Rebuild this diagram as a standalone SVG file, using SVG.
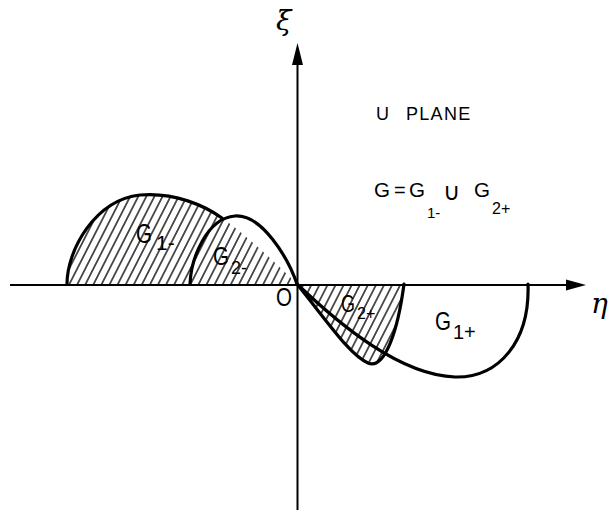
<svg xmlns="http://www.w3.org/2000/svg" width="614" height="514" viewBox="0 0 614 514">
  <style>
    .t { font-family: "Liberation Sans", Arial, sans-serif; fill: #000; }
    .g { font-family: "DejaVu Serif", "Liberation Serif", serif; font-style: italic; fill: #000; }
    .curve { fill: none; stroke: #000; stroke-width: 3.2; stroke-linecap: round; stroke-linejoin: round; }
    .axis { fill: none; stroke: #000; stroke-width: 2; }
  </style>
  <defs>
    <pattern id="hatch" patternUnits="userSpaceOnUse" width="7.2" height="10" patternTransform="rotate(27)">
      <line x1="3.6" y1="-1" x2="3.6" y2="11" stroke="#000" stroke-width="1.3"/>
    </pattern>
  </defs>
  <rect width="614" height="514" fill="#fff"/>

  <g id="hatched-regions">
    <path d="M67,284 C67,250 95,200 140,195 C175,192 205,206 222,218 C245,234 275,262 297,284 Z" fill="url(#hatch)"/>
    <path d="M297,284 C330,325 350,355 368,363 C385,370 398,330 404,284 Z" fill="url(#hatch)"/>
  </g>

  <g id="axes">
    <line class="axis" x1="10" y1="285" x2="570" y2="285"/>
    <polygon points="586,285 566,279.5 566,290.5" fill="#000"/>
    <line class="axis" x1="297.5" y1="510" x2="297.5" y2="60"/>
    <polygon points="297.5,43 292,65 303,65" fill="#000"/>
  </g>

  <g id="connectors">
    <path id="curve-G1minus" class="curve" d="M67,284 C67,250 95,200 140,195 C175,192 205,206 222,218"/>
    <path id="curve-G2minus" class="curve" d="M190,284 C191,258 207,218 235,216 C262,214 288,258 297,284"/>
    <path id="curve-G2plus" class="curve" d="M297,284 C330,325 350,355 368,363 C385,370 398,330 404,284"/>
    <path id="curve-G1plus" class="curve" d="M297,284 C340,325 400,375 455,377 C500,378 530,340 528,284"/>
  </g>

  <g id="axis-labels">
    <text class="g" x="276" y="30" font-size="28">ξ</text>
    <text class="g" x="591" y="313" font-size="28">η</text>
    <text class="t" x="276" y="306" font-size="25" textLength="16" lengthAdjust="spacingAndGlyphs">O</text>
  </g>

  <g id="region-labels">
    <g id="label-G1minus">
      <text class="t" x="136" y="243" font-size="27" textLength="16" lengthAdjust="spacingAndGlyphs">G</text>
      <text class="t" x="156" y="250" font-size="21">1-</text>
    </g>
    <g id="label-G2minus">
      <text class="t" x="213" y="265" font-size="25" textLength="16" lengthAdjust="spacingAndGlyphs">G</text>
      <text class="t" x="231" y="274" font-size="18">2-</text>
    </g>
    <g id="label-G2plus">
      <text class="t" x="341" y="312" font-size="23" textLength="14" lengthAdjust="spacingAndGlyphs">G</text>
      <text class="t" x="357" y="319" font-size="16">2+</text>
    </g>
    <g id="label-G1plus">
      <text class="t" x="435" y="330" font-size="25" textLength="16" lengthAdjust="spacingAndGlyphs">G</text>
      <text class="t" x="453" y="339" font-size="20">1+</text>
    </g>
  </g>

  <g id="title">
    <text class="t" x="376" y="120" font-size="18">U</text>
    <text class="t" x="406" y="120" font-size="18" letter-spacing="1.3">PLANE</text>
  </g>

  <g id="formula">
    <text class="t" x="374" y="197" font-size="20" textLength="16" lengthAdjust="spacingAndGlyphs">G</text>
    <text class="t" x="394" y="197" font-size="20">=</text>
    <text class="t" x="409" y="197" font-size="20" textLength="16" lengthAdjust="spacingAndGlyphs">G</text>
    <text class="t" x="427" y="218" font-size="15">1-</text>
    <text x="443" y="200" font-size="24" font-family="DejaVu Sans, sans-serif">∪</text>
    <text class="t" x="474" y="197" font-size="20" textLength="16" lengthAdjust="spacingAndGlyphs">G</text>
    <text class="t" x="492" y="214" font-size="16">2+</text>
  </g>
</svg>
